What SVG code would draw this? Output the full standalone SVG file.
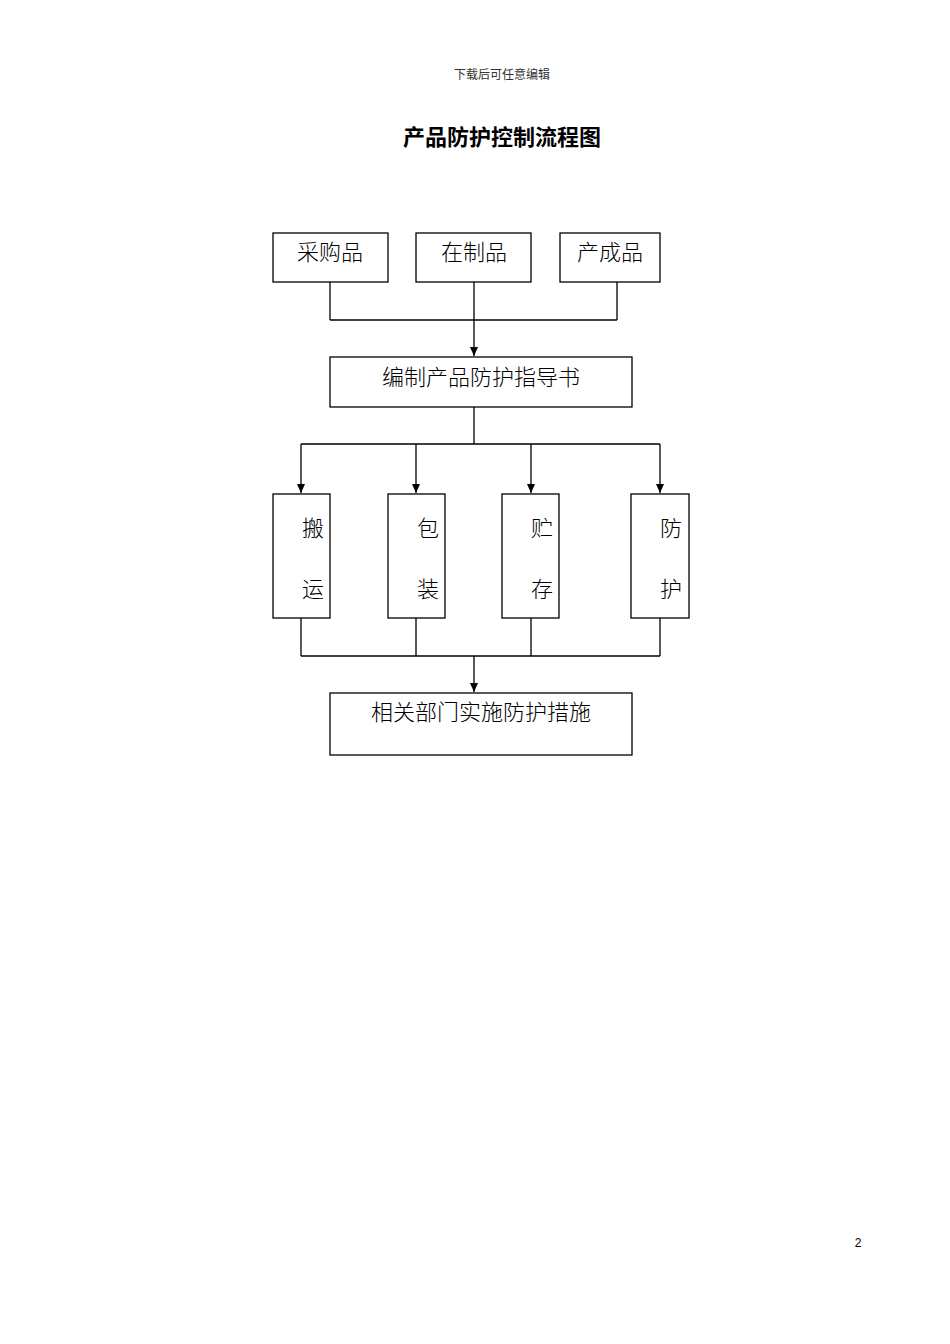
<svg xmlns="http://www.w3.org/2000/svg" width="950" height="1344" viewBox="0 0 950 1344">
<style>
.b{fill:#fff;stroke:#000;stroke-width:1.3}
.t{font-family:"Noto Sans CJK SC","Noto Sans",sans-serif;font-size:22px;fill:#000;text-anchor:middle;font-weight:300}
.c{fill:none;stroke:#000;stroke-width:1.3}
</style>
<defs><marker id="a" markerWidth="10" markerHeight="10" refX="9" refY="5" orient="auto" markerUnits="userSpaceOnUse"><path d="M0,1 L9,5 L0,9 Z" fill="#000"/></marker></defs>
<rect width="950" height="1344" fill="#fff"/>
<text x="502" y="79" font-family="Noto Sans CJK SC,serif" font-size="12" text-anchor="middle" fill="#333">下载后可任意编辑</text>
<text x="502" y="145" font-family="Noto Sans CJK SC,sans-serif" font-size="22" font-weight="bold" text-anchor="middle">产品防护控制流程图</text>
<text x="858" y="1247" font-family="Liberation Sans,sans-serif" font-size="12" text-anchor="middle">2</text>
<g id="connectors">
<path class="c" d="M330,282V320M474,282V320M617,282V320M330,320H617"/>
<path class="c" d="M474,320V356" marker-end="url(#a)"/>
<path class="c" d="M474,407V444M301,444H660"/>
<path class="c" d="M301,444V493" marker-end="url(#a)"/>
<path class="c" d="M416,444V493" marker-end="url(#a)"/>
<path class="c" d="M531,444V493" marker-end="url(#a)"/>
<path class="c" d="M660,444V493" marker-end="url(#a)"/>
<path class="c" d="M301,618V656M416,618V656M531,618V656M660,618V656M301,656H660"/>
<path class="c" d="M474,656V692" marker-end="url(#a)"/>
</g>
<g id="n1"><rect class="b" x="273" y="233" width="115" height="49"/><text class="t" x="330" y="260">采购品</text></g>
<g id="n2"><rect class="b" x="416" y="233" width="115" height="49"/><text class="t" x="474" y="260">在制品</text></g>
<g id="n3"><rect class="b" x="560" y="233" width="100" height="49"/><text class="t" x="610" y="260">产成品</text></g>
<g id="n4"><rect class="b" x="330" y="357" width="302" height="50"/><text class="t" x="481" y="385">编制产品防护指导书</text></g>
<g id="n5"><rect class="b" x="273" y="494" width="57" height="124"/><text class="t" x="313" y="536">搬</text><text class="t" x="313" y="597">运</text></g>
<g id="n6"><rect class="b" x="388" y="494" width="57" height="124"/><text class="t" x="428" y="536">包</text><text class="t" x="428" y="597">装</text></g>
<g id="n7"><rect class="b" x="502" y="494" width="57" height="124"/><text class="t" x="542" y="536">贮</text><text class="t" x="542" y="597">存</text></g>
<g id="n8"><rect class="b" x="631" y="494" width="58" height="124"/><text class="t" x="671" y="536">防</text><text class="t" x="671" y="597">护</text></g>
<g id="n9"><rect class="b" x="330" y="693" width="302" height="62"/><text class="t" x="481" y="720">相关部门实施防护措施</text></g>
</svg>
